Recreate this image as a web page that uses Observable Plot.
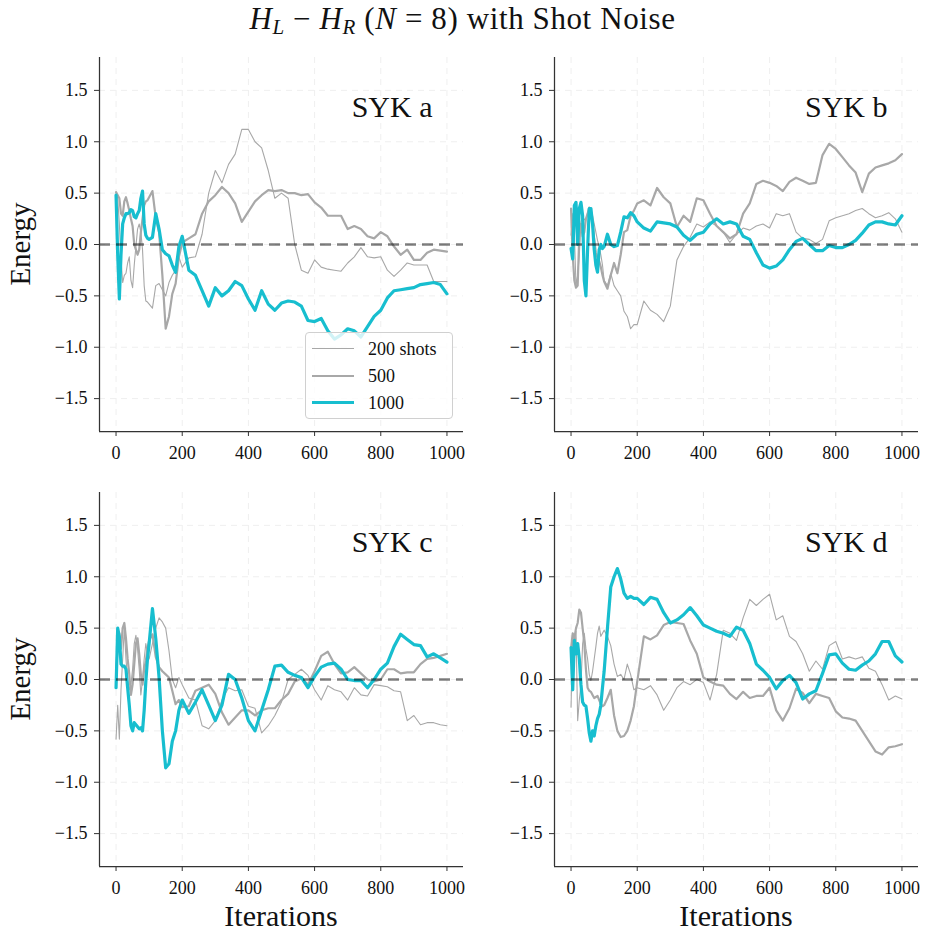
<!DOCTYPE html>
<html>
<head>
<meta charset="utf-8">
<script src="https://cdn.jsdelivr.net/npm/d3@7"></script>
<script src="https://cdn.jsdelivr.net/npm/@observablehq/plot@0.6"></script>
<style>
  body { margin: 0; background: #fff; }
  #root { position: relative; width: 925px; height: 931px; overflow: hidden; background: #fff;
          font-family: 'Liberation Serif', 'DejaVu Serif', serif; color: #111; }
  .abs { position: absolute; }
  .panel svg { overflow: visible; }
  .ttl { position: absolute; left: 0; width: 925px; top: 1px; text-align: center; font-size: 31px; letter-spacing: 0.6px; }
  .ttl sub { font-size: 21px; vertical-align: -5px; font-style: italic; }
  .ylab { position: absolute; font-size: 29px; transform: translate(-50%, -50%) rotate(-90deg); white-space: nowrap; }
  .xlab { position: absolute; font-size: 30px; transform: translate(-50%, -50%); white-space: nowrap; }
  .legend { position: absolute; left: 305px; top: 332px; width: 148px; height: 87px;
            background: rgba(255,255,255,0.8); border: 1px solid #d0d0d0; border-radius: 4px; box-sizing: border-box; }
  .legend .row { position: absolute; left: 0; height: 0; }
  .legend .sw { position: absolute; left: 6px; width: 42px; }
  .legend .lt { position: absolute; left: 62px; font-size: 18px; transform: translateY(-50%); white-space: nowrap; }
</style>
</head>
<body>
<div id="root"></div>
<script>
// ---------- data ----------
const iters = [0,5,10,15,20,25,30,35,40,45,50,55,60,65,70,75,80,85,90,95,100,
  110,120,130,140,150,160,170,180,190,200,
  220,240,260,280,300,320,340,360,380,400,420,440,460,480,500,520,540,560,580,600,
  620,640,660,680,700,720,740,760,780,800,820,840,860,880,900,920,940,960,980,1000];

const xTicks = [0, 200, 400, 600, 800, 1000];
const yTicks = [-1.5, -1.0, -0.5, 0.0, 0.5, 1.0, 1.5];
const xDomain = [-50, 1050];
const yDomain = [-1.82, 1.82];
const seriesNames = ["200 shots", "500", "1000"];
const panelNames = ["SYK a", "SYK b", "SYK c", "SYK d"];

// SYK a
const a200 = [0.51,0.45,0.2,-0.15,-0.37,-0.3,-0.28,-0.18,-0.12,-0.35,-0.42,-0.2,-0.02,0.15,0.2,0.12,-0.05,-0.4,-0.55,-0.56,-0.58,
  -0.62,-0.4,-0.38,-0.44,-0.5,-0.37,-0.3,-0.25,-0.12,-0.22,
  -0.13,-0.12,0.1,0.5,0.72, 0.6,0.78,0.88,1.12,1.12, 1.0,0.94,0.72,0.45,0.5, 0.45,0.0,-0.25,-0.28,-0.15,
  -0.22,-0.24,-0.25,-0.26,-0.18, -0.12,-0.03,-0.12,-0.13,-0.12, -0.25,-0.31,-0.25,-0.18,-0.2, -0.2,-0.2,-0.36,-0.36,-0.36];
const a500 = [0.51,0.48,0.45,0.3,0.28,0.42,0.46,0.4,0.33,0.25,0.18,0.0,-0.05,-0.1,-0.05,0.12,0.25,0.38,0.42,0.43,0.46,
  0.52,0.26,0.12,-0.3,-0.82,-0.7,-0.48,-0.38,-0.12,0.02,
  0.06,0.1,0.3,0.42,0.48, 0.56,0.5,0.4,0.22,0.32, 0.42,0.48,0.53,0.52,0.53, 0.5,0.5,0.48,0.49,0.41,
  0.36,0.28,0.28,0.28,0.15, 0.18,0.15,0.08,0.06,0.12, 0.08,-0.02,-0.1,-0.05,-0.15, -0.15,-0.08,-0.05,-0.06,-0.07];
const a1000 = [0.48,-0.1,-0.53,-0.1,0.2,0.26,0.3,0.3,0.31,0.34,0.33,0.27,0.26,0.3,0.33,0.45,0.52,0.2,0.09,0.06,0.05,
  0.07,0.3,0.15,-0.05,-0.09,-0.11,-0.2,-0.27,-0.02,0.08,
  -0.25,-0.3,-0.45,-0.6,-0.42, -0.5,-0.45,-0.36,-0.4,-0.53, -0.64,-0.45,-0.58,-0.64,-0.57, -0.55,-0.56,-0.6,-0.74,-0.75,
  -0.72,-0.84,-0.92,-0.88,-0.82, -0.84,-0.9,-0.8,-0.7,-0.64, -0.52,-0.45,-0.44,-0.43,-0.42, -0.39,-0.38,-0.37,-0.39,-0.48];

// SYK b
const b200 = [0.09,0.3,0.1,-0.4,-0.3,-0.1,0.22,0.28,0.24,0.25,0.3,0.3,0.27,0.28,0.2,0.12,0.04,-0.02,-0.1,-0.2,-0.35,
  -0.4,-0.28,-0.4,-0.45,-0.5,-0.65,-0.7,-0.82,-0.78,-0.78,
  -0.55,-0.64,-0.68,-0.75,-0.6, -0.15,-0.02,0.07,0.2,0.17, 0.22,0.18,0.12,0.02,0.1, 0.16,0.14,0.18,0.2,0.16,
  0.3,0.28,0.3,0.12,0.06, 0.05,0.01,0.05,0.23,0.26, 0.28,0.3,0.33,0.35,0.3, 0.26,0.28,0.31,0.25,0.12];
const b500 = [0.35,-0.1,-0.35,-0.42,-0.4,0.1,0.2,0.08,0.12,0.25,0.3,0.36,0.33,0.2,0.05,-0.08,-0.13,-0.16,-0.22,-0.3,-0.36,
  -0.43,-0.3,-0.18,-0.28,-0.1,0.12,0.14,0.28,0.33,0.4,
  0.43,0.38,0.55,0.46,0.4, 0.17,0.28,0.22,0.45,0.43, 0.3,0.18,0.12,0.06,0.1, 0.3,0.4,0.59,0.62,0.6,
  0.57,0.52,0.61,0.65,0.62, 0.59,0.6,0.87,0.98,0.93, 0.85,0.77,0.7,0.51,0.69, 0.75,0.77,0.79,0.82,0.88];
const b1000 = [-0.04,-0.14,0.38,0.41,0.0,0.35,0.41,0.28,-0.35,-0.5,-0.05,0.35,0.35,0.2,-0.05,-0.2,-0.27,-0.05,0.0,-0.04,-0.02,
  0.1,0.0,-0.02,-0.01,0.12,0.27,0.26,0.31,0.28,0.22,
  0.16,0.13,0.22,0.21,0.2, 0.17,0.09,0.04,0.1,0.12, 0.2,0.25,0.2,0.22,0.2, 0.08,0.05,-0.08,-0.2,-0.23,
  -0.21,-0.15,-0.05,0.03,0.06, 0.0,-0.06,-0.06,-0.01,-0.03, -0.03,0.0,0.04,0.11,0.19, 0.22,0.22,0.2,0.19,0.28];

// SYK c
const c200 = [-0.58,-0.25,-0.58,-0.1,0.2,0.5,0.2,0.0,-0.1,-0.05,0.1,0.35,0.43,0.3,0.1,-0.15,0.0,0.2,0.35,0.25,0.2,
  0.35,0.5,0.6,0.56,0.5,0.28,0.0,-0.08,0.02,-0.05,
  -0.18,-0.2,-0.45,-0.48,-0.4, -0.2,-0.08,-0.11,-0.1,-0.26, -0.28,-0.52,-0.45,-0.35,-0.22, 0.0,0.05,0.1,0.04,-0.1,
  -0.2,-0.06,-0.1,-0.12,-0.2, -0.08,-0.15,-0.16,-0.05,-0.06, -0.07,-0.11,-0.12,-0.4,-0.35, -0.44,-0.42,-0.42,-0.44,-0.45];
const c500 = [0.0,0.35,0.45,0.3,0.5,0.55,0.4,0.2,0.05,-0.15,-0.05,0.15,0.35,0.4,0.25,0.05,-0.05,0.1,0.18,0.3,0.38,
  0.44,0.22,0.12,0.08,0.05,0.02,-0.11,-0.24,-0.2,-0.27,
  -0.26,-0.11,-0.08,-0.05,-0.14, -0.32,-0.44,-0.37,-0.3,-0.3, -0.35,-0.3,-0.28,-0.28,-0.2, -0.14,-0.02,0.01,-0.05,0.08,
  0.23,0.27,0.15,0.06,0.07, 0.12,0.06,0.0,-0.02,0.0, 0.1,0.1,0.06,0.07,0.07, 0.15,0.2,0.21,0.23,0.25];
const c1000 = [-0.08,0.5,0.41,0.15,0.13,0.13,0.1,-0.08,-0.25,-0.45,-0.5,-0.42,-0.44,-0.46,-0.48,-0.47,-0.5,-0.3,-0.02,0.2,0.35,
  0.69,0.4,0.02,-0.5,-0.86,-0.82,-0.6,-0.5,-0.3,-0.2,
  -0.33,-0.22,-0.1,-0.25,-0.4, -0.25,0.05,0.0,-0.18,-0.4, -0.5,-0.3,-0.1,0.13,0.14, 0.07,0.04,0.02,-0.08,0.03,
  0.12,0.15,0.16,0.1,0.0, -0.01,-0.01,-0.08,0.0,0.1, 0.16,0.32,0.44,0.39,0.34, 0.33,0.22,0.25,0.21,0.17];

// SYK d
const d200 = [-0.27,0.45,0.2,0.47,-0.4,-0.2,-0.05,0.35,0.45,0.3,0.2,0.05,-0.01,0.08,0.2,0.32,0.45,0.52,0.42,0.45,0.48,
  0.42,0.33,0.15,0.03,0.05,0.0,0.15,0.05,-0.1,-0.08,
  -0.1,-0.06,-0.15,-0.3,-0.2, -0.08,-0.02,-0.05,0.0,-0.03, -0.2,0.05,0.48,0.45,0.38, 0.6,0.78,0.72,0.78,0.83,
  0.58,0.62,0.42,0.37,0.25, 0.08,0.18,0.1,0.33,0.37, 0.2,0.22,0.2,0.22,0.11, 0.08,-0.05,-0.2,-0.16,-0.19];
const d500 = [0.3,0.45,0.4,0.5,0.55,0.68,0.65,0.5,0.35,0.1,-0.08,-0.11,-0.12,-0.15,-0.18,-0.17,-0.16,-0.2,-0.24,-0.26,-0.25,
  -0.18,-0.1,-0.35,-0.5,-0.56,-0.55,-0.5,-0.4,-0.26,-0.02,
  0.42,0.39,0.43,0.53,0.56, 0.55,0.54,0.38,0.25,0.02, -0.02,-0.05,-0.06,-0.14,-0.19, -0.12,-0.18,-0.16,-0.16,-0.08,
  -0.3,-0.4,-0.28,-0.09,-0.13, -0.23,-0.14,-0.16,-0.18,-0.31, -0.37,-0.38,-0.4,-0.5,-0.6, -0.7,-0.73,-0.66,-0.65,-0.63];
const d1000 = [0.31,-0.1,0.38,0.25,0.35,0.2,-0.05,-0.22,-0.25,-0.26,-0.38,-0.52,-0.6,-0.5,-0.55,-0.45,-0.38,-0.34,-0.25,-0.08,0.08,
  0.5,0.9,1.0,1.08,0.98,0.84,0.79,0.81,0.79,0.79,
  0.73,0.8,0.78,0.65,0.55, 0.58,0.63,0.7,0.62,0.53, 0.5,0.47,0.45,0.42,0.51, 0.48,0.35,0.15,0.09,0.02,
  -0.09,-0.01,0.04,-0.03,-0.19, -0.14,-0.11,0.06,0.24,0.25, 0.16,0.1,0.09,0.14,0.18, 0.25,0.37,0.37,0.23,0.17];

// ---------- styling ----------
const FONT = "'Liberation Serif', 'DejaVu Serif', serif";
const seriesStyle = [
  {stroke: "#a8a8a8", strokeWidth: 1.1},
  {stroke: "#a8a8a8", strokeWidth: 2.2},
  {stroke: "#17becf", strokeWidth: 3.2}
];
const PW = 364, PH = 374;

const root = document.getElementById("root");

function rows(arr) { return iters.map((it, i) => ({it, e: arr[i]})); }

function makePanel(name, arrs, pos) {
  const chart = Plot.plot({
    width: 99 + PW + pos.mr,
    height: 7 + PH + pos.mb,
    marginLeft: 99, marginRight: pos.mr, marginTop: 7, marginBottom: pos.mb,
    x: {domain: xDomain},
    y: {domain: yDomain},
    style: {fontFamily: FONT, fontSize: "18px", color: "#111", background: "transparent", overflow: "visible"},
    marks: [
      Plot.gridX(xTicks, {stroke: "#efefef", strokeOpacity: 1, strokeDasharray: "6,5", strokeWidth: 1}),
      Plot.gridY(yTicks, {stroke: "#efefef", strokeOpacity: 1, strokeDasharray: "6,5", strokeWidth: 1}),
      ...arrs.map((arr, k) => Plot.line(rows(arr), {x: "it", y: "e", ...seriesStyle[k], strokeLinejoin: "round"})),
      Plot.ruleY([0], {stroke: "#000", strokeOpacity: 0.5, strokeWidth: 2.6, strokeDasharray: "11,6"}),
      Plot.ruleX([xDomain[0]], {stroke: "#333", strokeWidth: 1.25}),
      Plot.ruleY([yDomain[0]], {stroke: "#333", strokeWidth: 1.25}),
      Plot.axisX({ticks: xTicks, tickFormat: "d", tickSize: 5, tickPadding: 10, label: null, stroke: "#333"}),
      Plot.axisY({ticks: yTicks, tickFormat: ".1f", tickSize: 5, tickPadding: 7, label: null, stroke: "#333"}),
      Plot.text([name], {frameAnchor: "top-right", text: d => d, dx: -31, dy: 38, fontSize: 30, textAnchor: "end", fill: "#111"})
    ]
  });
  const wrap = document.createElement("div");
  wrap.className = "abs panel";
  wrap.style.left = pos.left + "px";
  wrap.style.top = pos.top + "px";
  wrap.appendChild(chart);
  root.appendChild(wrap);
}

makePanel(panelNames[0], [a200, a500, a1000], {left: 0, top: 50, mr: 10, mb: 50});
makePanel(panelNames[1], [b200, b500, b1000], {left: 455, top: 50, mr: 7, mb: 50});
makePanel(panelNames[2], [c200, c500, c1000], {left: 0, top: 485, mr: 10, mb: 40});
makePanel(panelNames[3], [d200, d500, d1000], {left: 455, top: 485, mr: 7, mb: 40});

// title
const t = document.createElement("div");
t.className = "ttl";
t.innerHTML = "<i>H</i><sub>L</sub> \u2212 <i>H</i><sub>R</sub> (<i>N</i> = 8) with Shot Noise";
root.appendChild(t);

// axis titles
[[20, 244], [20, 679]].forEach(([x, y]) => {
  const d = document.createElement("div");
  d.className = "ylab"; d.textContent = "Energy";
  d.style.left = x + "px"; d.style.top = y + "px";
  root.appendChild(d);
});
[[281, 916], [736, 916]].forEach(([x, y]) => {
  const d = document.createElement("div");
  d.className = "xlab"; d.textContent = "Iterations";
  d.style.left = x + "px"; d.style.top = y + "px";
  root.appendChild(d);
});

// legend
const lg = document.createElement("div");
lg.className = "legend";
[16, 43, 70].forEach((y, k) => {
  const r = document.createElement("div");
  r.className = "row"; r.style.top = y + "px";
  const sw = document.createElement("div");
  sw.className = "sw";
  sw.style.borderTop = seriesStyle[k].strokeWidth + "px solid " + seriesStyle[k].stroke;
  sw.style.top = (-seriesStyle[k].strokeWidth / 2) + "px";
  const lt = document.createElement("div");
  lt.className = "lt"; lt.textContent = seriesNames[k];
  r.appendChild(sw); r.appendChild(lt);
  lg.appendChild(r);
});
root.appendChild(lg);
</script>
</body>
</html>
